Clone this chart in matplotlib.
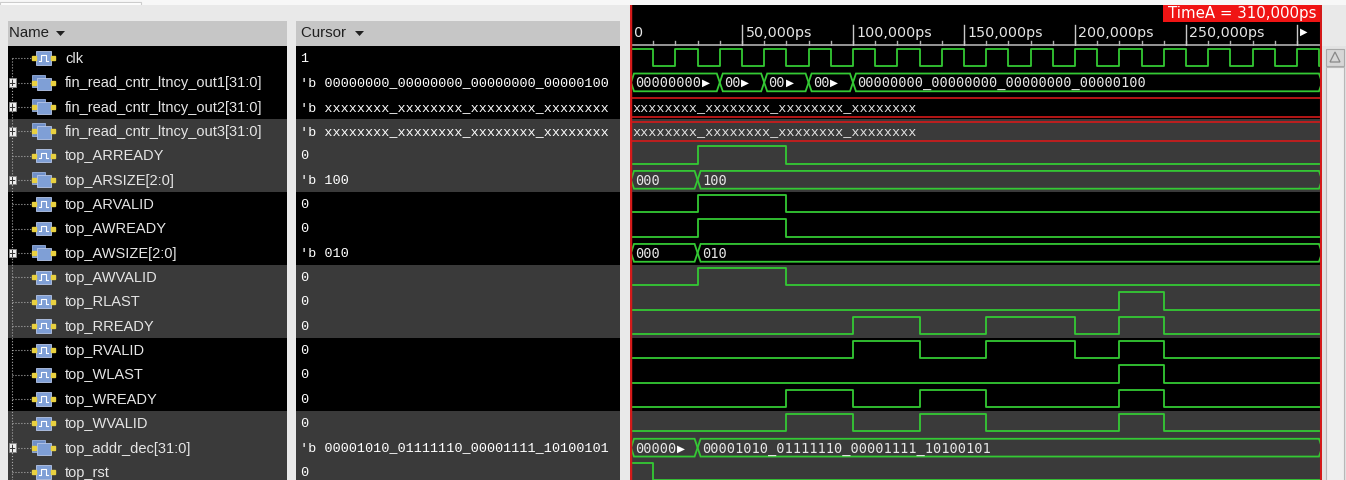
import numpy as np
import matplotlib.pyplot as plt
from matplotlib.patches import Rectangle, Polygon

# Datos de las señales (tiempos en ps)
signal_names = ['clk', 'fin_read_cntr_ltncy_out1[31:0]', 'fin_read_cntr_ltncy_out2[31:0]',
                'fin_read_cntr_ltncy_out3[31:0]', 'top_ARREADY', 'top_ARSIZE[2:0]', 'top_ARVALID',
                'top_AWREADY', 'top_AWSIZE[2:0]', 'top_AWVALID', 'top_RLAST', 'top_RREADY',
                'top_RVALID', 'top_WLAST', 'top_WREADY', 'top_WVALID', 'top_addr_dec[31:0]', 'top_rst']
cursor_values = ['1', "'b 00000000_00000000_00000000_00000100",
                 "'b xxxxxxxx_xxxxxxxx_xxxxxxxx_xxxxxxxx", "'b xxxxxxxx_xxxxxxxx_xxxxxxxx_xxxxxxxx",
                 '0', "'b 100", '0', '0', "'b 010", '0', '0', '0', '0', '0', '0', '0',
                 "'b 00001010_01111110_00001111_10100101", '0']

# señales de un bit: valor inicial y flancos
clk_init = 1
clk_edges = [10000, 20000, 30000, 40000, 50000, 60000, 70000, 80000, 90000, 100000,
             110000, 120000, 130000, 140000, 150000, 160000, 170000, 180000, 190000, 200000,
             210000, 220000, 230000, 240000, 250000, 260000, 270000, 280000, 290000, 300000, 310000]
arready_edges = [30000, 70000]
arvalid_edges = [30000, 70000]
awready_edges = [30000, 70000]
awvalid_edges = [30000, 70000]
rlast_edges = [220000, 240000]
rready_edges = [100000, 130000, 160000, 200000, 220000, 240000]
rvalid_edges = [100000, 130000, 160000, 200000, 220000, 240000]
wlast_edges = [220000, 240000]
wready_edges = [70000, 100000, 130000, 160000, 220000, 240000]
wvalid_edges = [70000, 100000, 130000, 160000, 220000, 240000]
rst_init = 1
rst_edges = [10000]

# buses: inicio de cada valor y su texto
out1_times = [0, 40000, 60000, 80000, 100000]
out1_labels = ['00000000\u25B6', '00\u25B6', '00\u25B6', '00\u25B6', '00000000_00000000_00000000_00000100']
out2_times = [0]
out2_labels = ['xxxxxxxx_xxxxxxxx_xxxxxxxx_xxxxxxxx']
out3_times = [0]
out3_labels = ['xxxxxxxx_xxxxxxxx_xxxxxxxx_xxxxxxxx']
arsize_times = [0, 30000]
arsize_labels = ['000', '100']
awsize_times = [0, 30000]
awsize_labels = ['000', '010']
addr_times = [0, 30000]
addr_labels = ['00000\u25B6', '00001010_01111110_00001111_10100101']

ruler_times = [0, 50000, 100000, 150000, 200000, 250000]
ruler_labels = ['0', '50,000ps', '100,000ps', '150,000ps', '200,000ps', '250,000ps']
cursor_time = 310000
t_start, t_end = -450, 311300

waves = [('bit', clk_init, clk_edges), ('bus', out1_times, out1_labels),
         ('bus', out2_times, out2_labels), ('bus', out3_times, out3_labels),
         ('bit', 0, arready_edges), ('bus', arsize_times, arsize_labels),
         ('bit', 0, arvalid_edges), ('bit', 0, awready_edges),
         ('bus', awsize_times, awsize_labels), ('bit', 0, awvalid_edges),
         ('bit', 0, rlast_edges), ('bit', 0, rready_edges), ('bit', 0, rvalid_edges),
         ('bit', 0, wlast_edges), ('bit', 0, wready_edges), ('bit', 0, wvalid_edges),
         ('bus', addr_times, addr_labels), ('bit', rst_init, rst_edges)]

# estilo
GREEN = '#34c934'
RED = '#d41a1a'
ROW_BG = ['#000000', '#3a3a3a']
TXT = '#e6e6e6'
W, H = 1346, 480
ROW_H = 24.35
TOP = 46
y_bottom = (H - TOP) / ROW_H - 0.5
HI, LO = 0.38, 0.33
D = 1350  # ancho del pico de los buses
MONO_W = ['DejaVu Sans Mono', 'DejaVu Sans']

fig = plt.figure(figsize=(W / 100, H / 100), dpi=100)
fig.patch.set_facecolor('#e9e9e9')


def px_axes(x0, y0, x1, y1):
    ax = fig.add_axes([x0 / W, 1 - y1 / H, (x1 - x0) / W, (y1 - y0) / H])
    ax.set_xticks([])
    ax.set_yticks([])
    for s in ax.spines.values():
        s.set_visible(False)
    return ax


def row_bg(ax):
    for i in range(len(signal_names)):
        ax.axhspan(i - 0.5, i + 0.5, color=ROW_BG[(i // 3) % 2], lw=0)
    ax.set_ylim(y_bottom, -0.5)


# barra blanca superior
top = px_axes(0, 0, W, 5)
top.set_facecolor('#f7f7f7')
top.add_patch(Rectangle((0.0, 0.0), 0.105, 0.6, transform=top.transAxes, facecolor='white',
                        edgecolor='#cccccc', lw=0.8))

# cabeceras
for x0, x1, title in [(8, 287, 'Name'), (296, 620, 'Cursor')]:
    hd = px_axes(x0, 21, x1, 46)
    hd.set_facecolor('#c6c6c6')
    pad = 1 if x0 == 8 else 5
    t = hd.text(pad, 12, title + ' ', fontsize=10.8, color='#202020', va='center',
                family='Liberation Sans')
    hd.set_xlim(0, x1 - x0)
    hd.set_ylim(25, 0)
    tw = {'Name': 42, 'Cursor': 49}[title]
    hd.add_patch(Polygon([(pad + tw + 5, 10), (pad + tw + 14, 10), (pad + tw + 9.5, 15)],
                         closed=True, facecolor='#202020', edgecolor='none'))

# panel de nombres
nm = px_axes(8, TOP, 287, H)
row_bg(nm)
nm.set_xlim(0, 279)
nm.plot([4, 4], [0, len(signal_names) - 0.5], ls=':', color='#aaaaaa', lw=0.8)
for i, (name, w) in enumerate(zip(signal_names, waves)):
    nm.plot([4, 26], [i, i], ls=':', color='#aaaaaa', lw=0.8)
    if w[0] == 'bus':
        nm.add_patch(Rectangle((0.5, i - 0.18), 7, 0.36, facecolor='#eeeeee', edgecolor='#888888', lw=0.6))
        nm.plot([1.8, 6.2], [i, i], color='#333333', lw=0.7)
        nm.plot([4, 4], [i - 0.12, i + 0.12], color='#333333', lw=0.7)
        nm.add_patch(Rectangle((24, i - 0.32), 13, 0.5, facecolor='#6f8fc8', edgecolor='#9bb3e0', lw=0.6))
        nm.add_patch(Rectangle((29, i - 0.2), 14, 0.5, facecolor='#7f9fd6', edgecolor='#b8c8ea', lw=0.6))
    else:
        nm.add_patch(Rectangle((28, i - 0.28), 15, 0.56, facecolor='#7f9fd6', edgecolor='#b8c8ea', lw=0.6))
        nm.plot([31, 33, 33, 38, 38, 40], [i + 0.1, i + 0.1, i - 0.12, i - 0.12, i + 0.1, i + 0.1],
                color='white', lw=0.8)
    nm.plot([26, 45], [i, i], ls='none', marker='s', ms=2.5, color='#e8d040')
    nm.text(57, i + 0.03, name, fontsize=10.5, color=TXT, va='center', family='Liberation Sans')

# panel del cursor
cu = px_axes(296, TOP, 620, H)
row_bg(cu)
cu.set_xlim(0, 324)
for i, val in enumerate(cursor_values):
    cu.text(4, i + 0.03, val, fontsize=9.7, color='white', va='center', family='Liberation Mono')

# regla de tiempos
ru = px_axes(630, 5, 1322, TOP)
ru.set_facecolor('black')
ru.set_xlim(t_start, t_end)
ru.set_ylim(41, 0)
ru.plot([t_start, t_end], [39.5, 39.5], color='#b0b0b0', lw=1.2)
for t in range(10000, 310000, 10000):
    ru.plot([t, t], [39.5, 35.5], color='#b0b0b0', lw=1)
for t, lab in zip(ruler_times, ruler_labels):
    if t > 0:
        ru.plot([t, t], [39.5, 20], color='#c8c8c8', lw=1)
    ru.annotate(lab, (t, 28), xytext=(2.5 if t > 0 else 2, 0), textcoords='offset points',
                fontsize=10.3, color=TXT, va='center', family='DejaVu Sans')
ru.plot([300000, 300000], [39.5, 20], color='#c8c8c8', lw=1)
ru.annotate('\u25B6', (300000, 27), xytext=(2.5, 0), textcoords='offset points',
            fontsize=7, color='white', va='center', family='DejaVu Sans')
ru.add_patch(Rectangle((239500, 0), t_end - 239500, 17, facecolor='#f01414', edgecolor='none'))
ru.text(t_end - 2500, 8.8, 'TimeA = 310,000ps', ha='right', va='center', fontsize=10.8, color='white',
        family='DejaVu Sans')

# formas de onda
wv = px_axes(630, TOP, 1322, H)
row_bg(wv)
wv.set_xlim(t_start, t_end)
for i, w in enumerate(waves):
    if w[0] == 'bit':
        init, edges = w[1], w[2]
        xs = [0] + edges + [t_end]
        lv = [init]
        for e in edges:
            lv.append(1 - lv[-1])
        lv.append(lv[-1])
        ys = [i - HI if v else i + LO for v in lv]
        wv.plot(xs, ys, drawstyle='steps-post', color=GREEN, lw=1.3)
    else:
        times, labels = w[1], w[2]
        bounds = times + [t_end]
        for k, lab in enumerate(labels):
            a, b = bounds[k], bounds[k + 1]
            if lab.startswith('x'):
                wv.plot([a, b], [i - HI, i - HI], color=RED, lw=1.2)
                wv.plot([a, b], [i + 0.4, i + 0.4], color=RED, lw=1.2)
                wv.text(a + 400, i + 0.03, lab, fontsize=9.7, color=TXT, va='center',
                        family='Liberation Mono')
            else:
                pts = [(a, i), (a + D, i - 0.37), (b - D, i - 0.37), (b, i), (b - D, i + 0.36), (a + D, i + 0.36)]
                wv.add_patch(Polygon(pts, closed=True, fill=False, edgecolor=GREEN, lw=1.3))
                body = lab.rstrip('\u25B6')
                tx = wv.text(a + 2000, i + 0.03, body, fontsize=9.9, color=TXT, va='center', family=MONO_W)
                if lab.endswith('\u25B6'):
                    wv.annotate('\u25B6', (a + 2000, i + 0.03), xytext=(len(body) * 5.95 + 0.3, 0),
                                textcoords='offset points', fontsize=7.5, color='white', va='center',
                                family='DejaVu Sans')

# bordes rojos del panel y cursor
for ax in (ru, wv):
    ax.axvline(t_start, color=RED, lw=2.5)
    ax.axvline(cursor_time + 900, color=RED, lw=1.5)

# barra de desplazamiento
sb = px_axes(1322, TOP, W, H)
sb.set_facecolor('#e2e2e2')
sb.set_xlim(0, 24)
sb.set_ylim(H - TOP, 0)
sb.add_patch(Rectangle((4, 3), 18, 17, facecolor='#d6d6d6', edgecolor='#a8a8a8', lw=0.8))
sb.add_patch(Polygon([(8, 16), (13, 6), (18, 16)], closed=True, fill=False, edgecolor='#888888', lw=0.9))
sb.add_patch(Rectangle((4, 21), 18, 420, facecolor='#efefef', edgecolor='#b8b8b8', lw=0.8))

plt.savefig('out.png', dpi=100)
